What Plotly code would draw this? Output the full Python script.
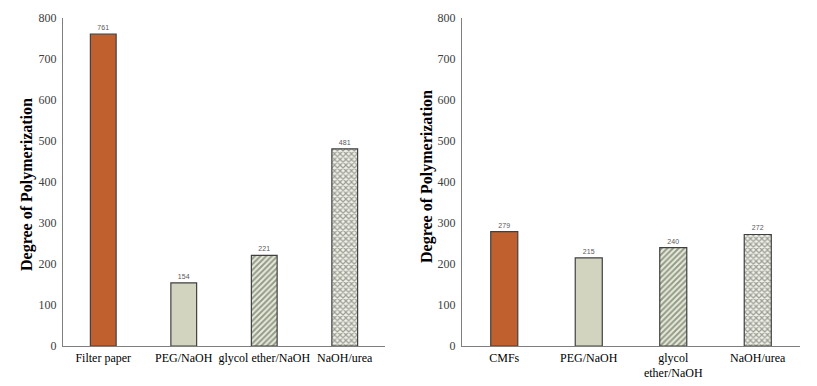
import plotly.graph_objects as go

left_categories = ["Filter paper", "PEG/NaOH", "glycol ether/NaOH", "NaOH/urea"]
left_values = [761, 154, 221, 481]
right_categories = ["CMFs", "PEG/NaOH", "glycol<br>ether/NaOH", "NaOH/urea"]
right_values = [279, 215, 240, 272]
y_ticks = [0, 100, 200, 300, 400, 500, 600, 700, 800]
y_title = "Degree of Polymerization"

fills = ["#C0602F", "#D3D4C0", "#E6EDD6", "#F0F2E6"]
pattern_shapes = ["", "", "/", "x"]
pattern_fg = ["#C0602F", "#D3D4C0", "#3F5A22", "#9EA884"]

fig = go.Figure()

def add_bars(cats, vals, xa, ya):
    fig.add_trace(go.Bar(
        x=cats, y=vals, xaxis=xa, yaxis=ya,
        width=0.32,
        marker=dict(
            color=fills,
            line=dict(color="#404040", width=1.2),
            pattern=dict(shape=pattern_shapes, fgcolor=pattern_fg, bgcolor=fills,
                         size=4, solidity=0.5),
        ),
        text=[str(v) for v in vals], textposition="outside",
        textfont=dict(family="Liberation Sans", size=7, color="#595959"),
        cliponaxis=False, showlegend=False,
    ))

add_bars(left_categories, left_values, "x", "y")
add_bars(right_categories, right_values, "x2", "y2")

axis_font = dict(family="Liberation Serif", size=12, color="#404040")
yax = dict(range=[0, 800], tickvals=y_ticks, showgrid=False, showline=True,
           linecolor="#7F7F7F", linewidth=1, ticks="", tickfont=axis_font,
           ticklabelstandoff=3, zeroline=False, automargin=False)
xax = dict(showgrid=False, showline=True, linecolor="#7F7F7F", linewidth=1.2,
           ticks="", automargin=False,
           tickfont=dict(family="Liberation Serif", size=12, color="#000000"))

title_font = dict(family="Liberation Serif", size=16, color="#000000", weight="bold")

fig.update_layout(
    width=809, height=378,
    margin=dict(l=0, r=0, t=0, b=0, autoexpand=False),
    paper_bgcolor="white", plot_bgcolor="white",
    xaxis=dict(domain=[0.0680, 0.4660], anchor="y", **xax),
    yaxis=dict(domain=[0.1058, 0.9735], anchor="x", **yax),
    xaxis2=dict(domain=[0.5612, 0.9790], anchor="y2", **xax),
    yaxis2=dict(domain=[0.1058, 0.9735], anchor="x2", **yax),
    bargap=0.68,
    annotations=[
        dict(text=y_title, textangle=-90, x=0.0235, y=0.5317, xref="paper",
             yref="paper", showarrow=False, font=title_font,
             xanchor="center", yanchor="middle"),
        dict(text=y_title, textangle=-90, x=0.5179, y=0.5556, xref="paper",
             yref="paper", showarrow=False, font=title_font,
             xanchor="center", yanchor="middle"),
    ],
)

fig.write_html("out.html")
